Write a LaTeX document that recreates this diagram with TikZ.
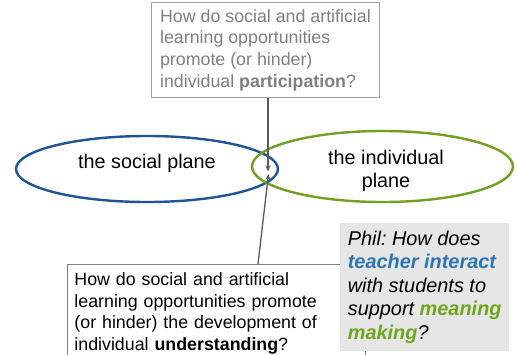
\documentclass[tikz,border=0pt]{standalone}
\usepackage{fontspec}
\setmainfont{Liberation Sans}
\usetikzlibrary{shapes.geometric,arrows.meta}
\frenchspacing

\definecolor{socialblue}{HTML}{1F5597}
\definecolor{indivgreen}{HTML}{70A020}
\definecolor{keyblue}{HTML}{2E75B6}
\definecolor{keygreen}{HTML}{6EA61E}
\definecolor{framegray}{HTML}{A0A0A0}
\definecolor{qgray}{HTML}{808080}
\definecolor{notefill}{HTML}{E6E6E6}
\definecolor{arrowgray}{HTML}{595959}

\tikzset{
  question/.style={draw=framegray, line width=0.9pt, fill=white, anchor=north west,
    align=left, inner xsep=7pt, font=\fontsize{17.8}{21.7}\selectfont},
  note/.style={fill=notefill, anchor=north west, align=left, inner xsep=7pt,
    inner ysep=7.4pt, minimum width=169pt,
    font=\fontsize{19.9}{23.5}\selectfont\itshape},
  plane/.style={ellipse, line width=2.4pt, inner sep=0pt},
  planetext/.style={inner sep=0pt, align=center, font=\fontsize{19.8}{23}\selectfont},
  link/.style={draw=arrowgray, line width=1.3pt, -{Stealth[length=6pt,width=5pt]}},
}

\begin{document}
\begin{tikzpicture}[x=1pt,y=-1pt]
\useasboundingbox (0,0) rectangle (517,354);

% the two planes
\node[plane, draw=socialblue, minimum width=262pt, minimum height=66pt] (socialE) at (147,169) {};
\node[plane, draw=indivgreen, minimum width=261pt, minimum height=71pt] (indivE) at (382.5,166.5) {};
\node[planetext, anchor=base] (socialT) at (147,168) {the social plane};
\node[planetext] (indivT) at (386,171.3) {the individual\\plane};

% where the two questions meet
\coordinate (meetTop) at (268,171.5);
\coordinate (meetBot) at (268.5,174);

% question on participation
\node[question, text=qgray, minimum width=228pt, minimum height=95pt, inner ysep=4pt] (partQ) at (151,2)
  {How do social and artificial\\learning opportunities\\promote (or hinder)\\individual \textbf{participation}?};

% question on understanding
\node[question, draw=qgray, text=black, inner ysep=8pt, text width=284pt] (undQ) at (67,264)
  {How do social and artificial\\learning opportunities promote\\(or hinder) the development of\\individual \textbf{understanding}?};

% Phil's question
\node[note] (phil) at (340,223)
  {Phil: How does\\\textcolor{keyblue}{\bfseries teacher interact}\\with students to\\support \textcolor{keygreen}{\bfseries meaning}\\\textcolor{keygreen}{\bfseries making}?};

% connectors
\draw[link] (partQ.south -| meetTop) -- (meetTop);
\draw[link] ([xshift=191pt]undQ.north west) -- (meetBot);
\end{tikzpicture}
\end{document}
